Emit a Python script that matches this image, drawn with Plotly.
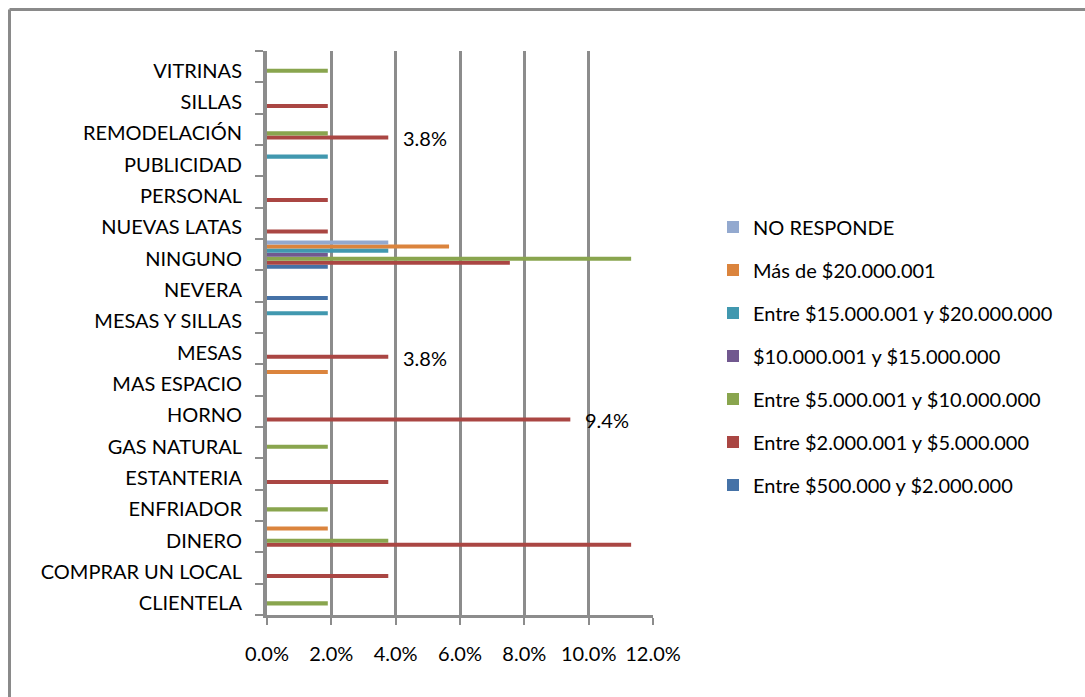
import plotly.graph_objects as go

# Categories, bottom to top
categories = [
    "CLIENTELA", "COMPRAR UN LOCAL", "DINERO", "ENFRIADOR", "ESTANTERIA",
    "GAS NATURAL", "HORNO", "MAS ESPACIO", "MESAS", "MESAS Y SILLAS",
    "NEVERA", "NINGUNO", "NUEVAS LATAS", "PERSONAL", "PUBLICIDAD",
    "REMODELACIÓN", "SILLAS", "VITRINAS",
]

# Share of respondents per investment range (fractions)
entre_500k_2m = [0, 0, 0, 0, 0, 0, 0, 0, 0, 0, 0.0189, 0.0189, 0, 0, 0, 0, 0, 0]
entre_2m_5m = [0, 0.0377, 0.1132, 0, 0.0377, 0, 0.0943, 0, 0.0377, 0, 0, 0.0755, 0.0189, 0.0189, 0, 0.0377, 0.0189, 0]
entre_5m_10m = [0.0189, 0, 0.0377, 0.0189, 0, 0.0189, 0, 0, 0, 0, 0, 0.1132, 0, 0, 0, 0.0189, 0, 0.0189]
entre_10m_15m = [0, 0, 0, 0, 0, 0, 0, 0, 0, 0, 0, 0.0189, 0, 0, 0, 0, 0, 0]
entre_15m_20m = [0, 0, 0, 0, 0, 0, 0, 0, 0, 0.0189, 0, 0.0377, 0, 0, 0.0189, 0, 0, 0]
mas_de_20m = [0, 0, 0.0189, 0, 0, 0, 0, 0.0189, 0, 0, 0, 0.0566, 0, 0, 0, 0, 0, 0]
no_responde = [0, 0, 0, 0, 0, 0, 0, 0, 0, 0, 0, 0.0377, 0, 0, 0, 0, 0, 0]

series_names = [
    "Entre $500.000 y $2.000.000",
    "Entre $2.000.001 y $5.000.000",
    "Entre $5.000.001 y $10.000.000",
    "$10.000.001 y $15.000.000",
    "Entre $15.000.001 y $20.000.000",
    "Más de $20.000.001",
    "NO RESPONDE",
]
series_values = [entre_500k_2m, entre_2m_5m, entre_5m_10m, entre_10m_15m,
                 entre_15m_20m, mas_de_20m, no_responde]
series_colors = ["#4572A7", "#AA4643", "#89A54E", "#71588F", "#4198AF", "#DB843D", "#93A9CF"]

# Bars of the 2M-5M series that carry a value label
labelled = ["REMODELACIÓN", "MESAS", "HORNO"]

x_ticks = [0, 0.02, 0.04, 0.06, 0.08, 0.10, 0.12]

FONT = "Lato"
FSIZE = 20
W, H = 1085, 697
ML, MR, MT, MB = 267, 432, 51, 82
PW, PH = W - ML - MR, H - MT - MB

fig = go.Figure()
n = len(series_names)
for i, (name, vals, col) in enumerate(zip(series_names, series_values, series_colors)):
    fig.add_trace(go.Bar(
        y=categories, x=vals, name=name, orientation="h",
        marker=dict(color=col, line=dict(width=0)),
        legendgroup=name, legendrank=n - i,
    ))

for cat in labelled:
    v = entre_2m_5m[categories.index(cat)]
    fig.add_annotation(
        x=v, y=cat, text=f"{v * 100:.1f}%", showarrow=False,
        xanchor="left", yanchor="middle", xshift=13, yshift=-9,
        font=dict(family=FONT, size=FSIZE, color="#000000"),
    )

# Chart frame (top and left edges)
def px_x(p):
    return (p - ML) / PW

def px_y(p):
    return (H - MB - p) / PH

fig.add_shape(type="line", xref="paper", yref="paper",
              x0=px_x(9.5), x1=px_x(1100), y0=px_y(9.5), y1=px_y(9.5),
              line=dict(color="#8a8a8a", width=3))
fig.add_shape(type="line", xref="paper", yref="paper",
              x0=px_x(9.5), x1=px_x(9.5), y0=px_y(9.5), y1=px_y(710),
              line=dict(color="#8a8a8a", width=3))

fig.update_layout(
    width=W, height=H,
    margin=dict(l=ML, r=MR, t=MT, b=MB),
    paper_bgcolor="white", plot_bgcolor="white",
    barmode="group", bargap=0.1, bargroupgap=0,
    font=dict(family=FONT, size=FSIZE, color="#000000"),
    showlegend=True,
    legend=dict(
        traceorder="grouped", tracegroupgap=14,
        x=px_x(713), xanchor="left", y=px_y(356), yanchor="middle",
        font=dict(family=FONT, size=FSIZE, color="#000000"),
        itemwidth=30, bgcolor="rgba(0,0,0,0)",
    ),
    xaxis=dict(
        range=[0, 0.12], tickvals=x_ticks, tickformat=".1%",
        showgrid=True, gridcolor="#8c8c8c", gridwidth=3,
        zeroline=False, showline=True, linecolor="#8c8c8c", linewidth=3,
        ticks="outside", ticklen=7, tickwidth=2, tickcolor="#8c8c8c",
        ticklabelstandoff=12,
    ),
    yaxis=dict(
        categoryorder="array", categoryarray=categories,
        range=[-0.5, len(categories) - 0.5],
        showgrid=False, zeroline=False,
        showline=True, linecolor="#8c8c8c", linewidth=4,
        ticks="outside", tickson="boundaries", ticklen=8, tickwidth=2,
        tickcolor="#8c8c8c", ticklabelstandoff=17, ticklabelshift=4,
    ),
)

fig.write_html("out.html")
